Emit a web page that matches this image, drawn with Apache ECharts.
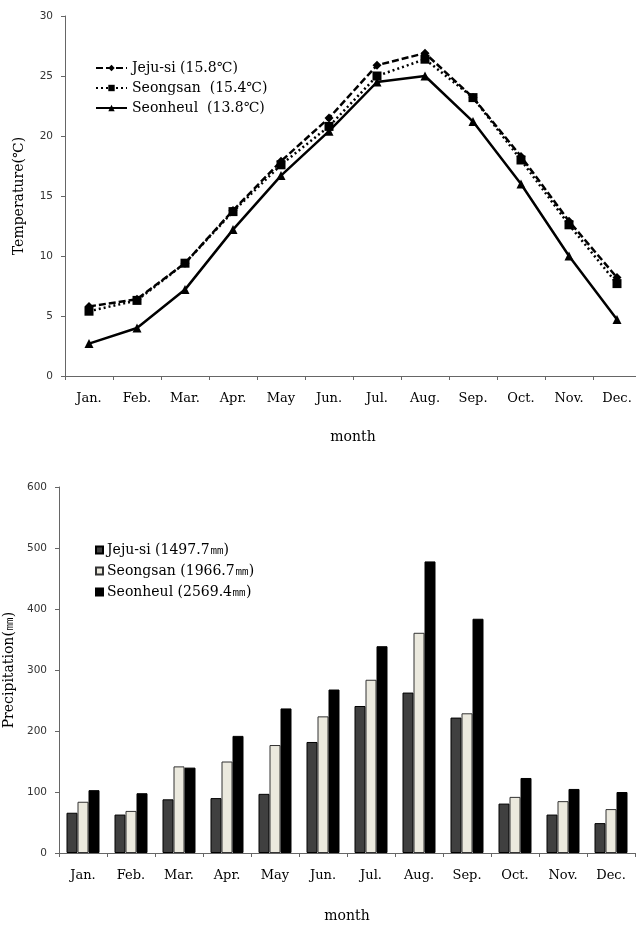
<!DOCTYPE html>
<html>
<head>
<meta charset="utf-8">
<script src="https://cdn.jsdelivr.net/npm/echarts@6/dist/echarts.min.js"></script>
<style>
html,body{margin:0;padding:0;background:#fff;}
#c{width:636px;height:926px;}
</style>
</head>
<body>
<div id="c"></div>
<script>
const months = ['Jan.','Feb.','Mar.','Apr.','May','Jun.','Jul.','Aug.','Sep.','Oct.','Nov.','Dec.'];
const tempNames = ['Jeju-si (15.8\u2103)', 'Seongsan  (15.4\u2103)', 'Seonheul  (13.8\u2103)'];
const tempJeju = [5.8, 6.4, 9.4, 13.8, 17.9, 21.5, 25.9, 26.9, 23.2, 18.3, 12.9, 8.2];
const tempSeongsan = [5.4, 6.3, 9.4, 13.7, 17.6, 20.8, 25.0, 26.4, 23.2, 18.0, 12.6, 7.7];
const tempSeonheul = [2.7, 4.0, 7.2, 12.2, 16.7, 20.4, 24.5, 25.0, 21.2, 16.0, 10.0, 4.7];
const precNames = ['Jeju-si (1497.7\u339c)', 'Seongsan (1966.7\u339c)', 'Seonheul (2569.4\u339c)'];
const precJeju = [66, 63, 88, 90, 97, 182, 241, 263, 222, 81, 63, 49];
const precSeongsan = [84, 69, 142, 150, 177, 224, 284, 361, 229, 92, 85, 72];
const precSeonheul = [103, 98, 140, 192, 237, 268, 339, 478, 384, 123, 105, 100];

const serif = 'DejaVu Serif';
const sans = 'DejaVu Sans';
const axisCol = '#666';

function xAxis(gi, gap){
  return {
    type:'category', gridIndex:gi, data:months, boundaryGap:true,
    axisLine:{lineStyle:{color:axisCol,width:1}},
    axisTick:{show:true,length:4,alignWithLabel:false,lineStyle:{color:axisCol}},
    axisLabel:{fontFamily:serif,fontSize:13,color:'#000',margin:16,interval:0},
    name:'month', nameLocation:'middle', nameGap:gap,
    nameTextStyle:{fontFamily:serif,fontSize:14,color:'#000'}
  };
}
function yAxis(gi, max, interval, name, gap){
  return {
    type:'value', gridIndex:gi, min:0, max:max, interval:interval,
    splitLine:{show:false},
    axisLine:{show:true,lineStyle:{color:axisCol,width:1}},
    axisTick:{show:true,length:4,lineStyle:{color:axisCol}},
    axisLabel:{fontFamily:sans,fontSize:10.5,color:'#333',margin:12},
    name:name, nameLocation:'middle', nameGap:gap, nameRotate:90,
    nameTextStyle:{fontFamily:serif,fontSize:14,color:'#000'}
  };
}

const option = {
  animation:false,
  backgroundColor:'#fff',
  grid:[
    {left:65, top:16, width:576, height:360, containLabel:false, outerBoundsMode:'none'},
    {left:59, top:487, width:576, height:366, containLabel:false, outerBoundsMode:'none'}
  ],
  xAxis:[xAxis(0,54), xAxis(1,56)],
  yAxis:[yAxis(0,30,5,'Temperature(\u2103)',39), yAxis(1,600,100,'Precipitation(\u339c)',43)],
  legend:[
    {
      data:tempNames, orient:'vertical', left:95, top:61, itemGap:6, padding:0,
      itemWidth:31, itemHeight:8,
      textStyle:{fontFamily:serif,fontSize:14,lineHeight:14,color:'#000',padding:[0,0,0,0]}
    },
    {
      data:precNames, orient:'vertical', left:95, top:543, itemGap:7, padding:0,
      itemWidth:7, itemHeight:7, icon:'rect',
      textStyle:{fontFamily:serif,fontSize:14,lineHeight:14,color:'#000',padding:[0,0,0,-1]}
    }
  ],
  series:[
    {name:tempNames[0], type:'line', xAxisIndex:0, yAxisIndex:0, data:tempJeju,
     symbol:'diamond', symbolSize:9, color:'#000',
     lineStyle:{color:'#000',width:2.5,type:[7,3]}, itemStyle:{color:'#000'}},
    {name:tempNames[1], type:'line', xAxisIndex:0, yAxisIndex:0, data:tempSeongsan,
     symbol:'rect', symbolSize:9, color:'#000',
     lineStyle:{color:'#000',width:2.5,type:[2,3]}, itemStyle:{color:'#000'}},
    {name:tempNames[2], type:'line', xAxisIndex:0, yAxisIndex:0, data:tempSeonheul,
     symbol:'triangle', symbolSize:9, color:'#000',
     lineStyle:{color:'#000',width:2.5,type:'solid'}, itemStyle:{color:'#000'}},
    {name:precNames[0], type:'bar', xAxisIndex:1, yAxisIndex:1, data:precJeju,
     barWidth:11, barGap:'0%', barCategoryGap:'31%',
     itemStyle:{color:'#404040',borderColor:'#000',borderWidth:1}},
    {name:precNames[1], type:'bar', xAxisIndex:1, yAxisIndex:1, data:precSeongsan,
     barWidth:11, barGap:'0%',
     itemStyle:{color:'#ebe9de',borderColor:'#333',borderWidth:1}},
    {name:precNames[2], type:'bar', xAxisIndex:1, yAxisIndex:1, data:precSeonheul,
     barWidth:11, barGap:'0%',
     itemStyle:{color:'#000',borderColor:'#000',borderWidth:1}}
  ]
};
const chart = echarts.init(document.getElementById('c'), null, {renderer:'canvas'});
chart.setOption(option);
</script>
</body>
</html>
